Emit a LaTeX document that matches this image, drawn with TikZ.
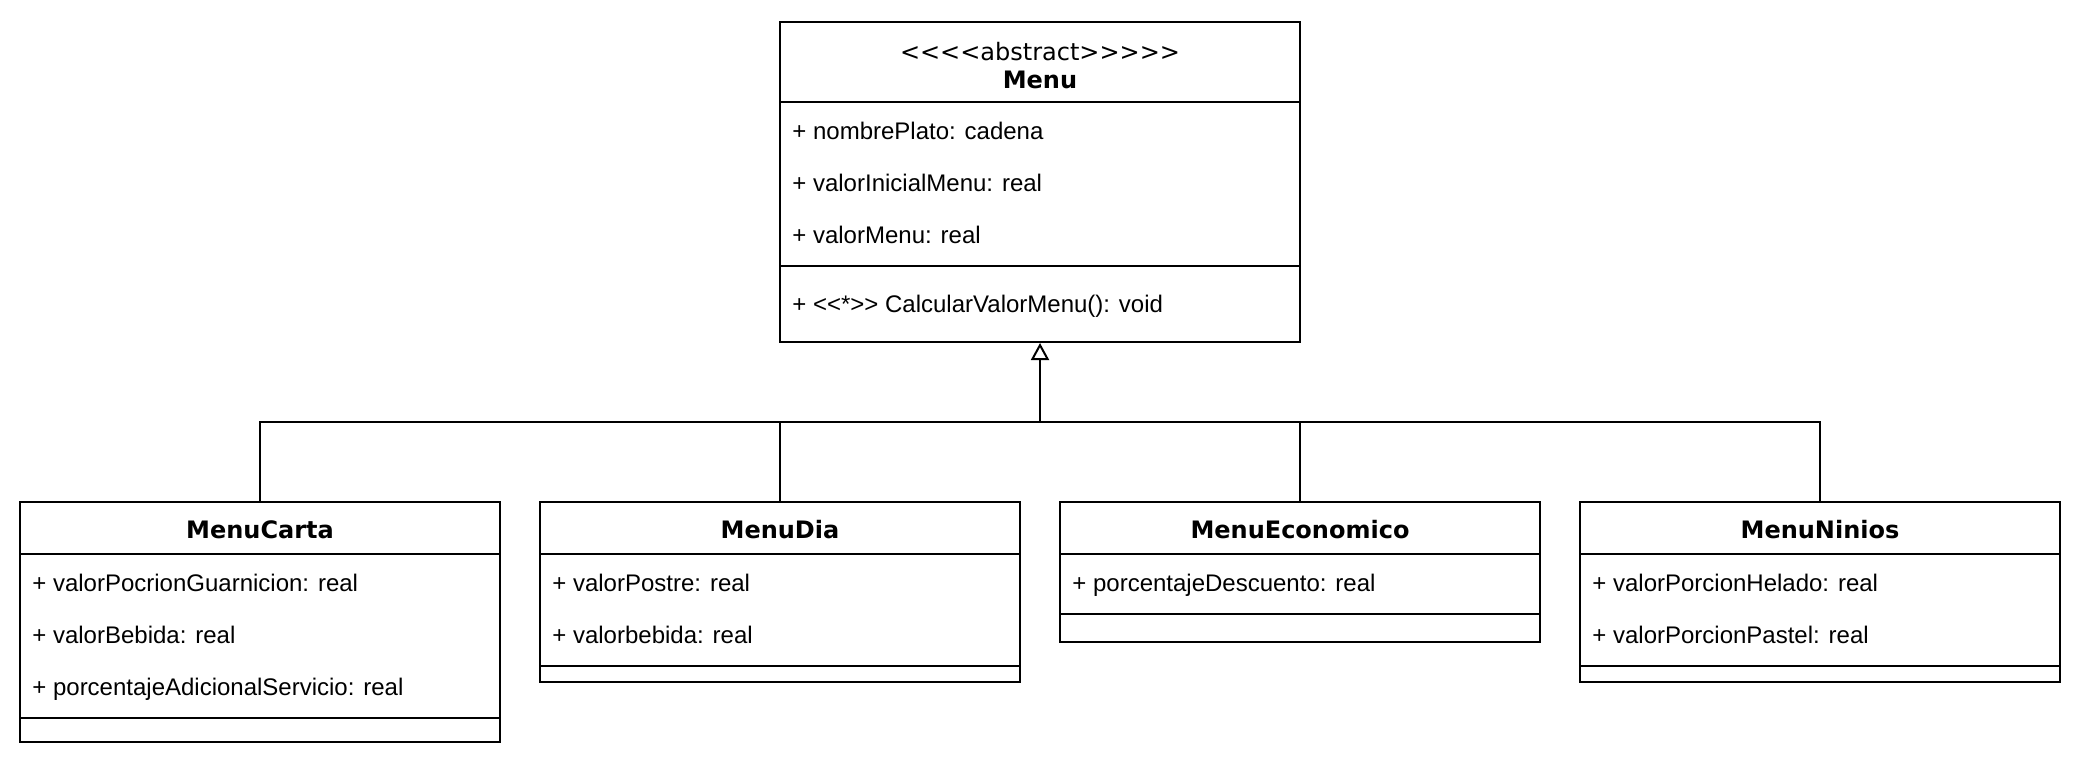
\documentclass[tikz,border=0pt]{standalone}
\usepackage{fontspec}
\usepackage{tikz}
\usetikzlibrary{arrows.meta}
\newfontfamily\attrfont{Liberation Sans}
\newfontfamily\headfont{DejaVu Sans}
\tikzset{
  font={\attrfont\fontsize{12pt}{14pt}\selectfont},
  classbox/.style={draw=black, line width=1pt, fill=white},
  sep/.style={line width=1pt},
  attr/.style={anchor=base west},
  stereo/.style={anchor=base, font={\headfont\fontsize{12pt}{14pt}\selectfont}},
  classname/.style={anchor=base, font={\headfont\bfseries\fontsize{12pt}{14pt}\selectfont}},
  bus/.style={line width=1pt}}

\begin{document}
\begin{tikzpicture}[x=1pt,y=-1pt]
\tikzstyle{every node}+=[inner sep=0pt]
\useasboundingbox (0,-1) rectangle (1041,380);
% abstract class
\node [classbox, minimum width=260pt, minimum height=160pt] (menu) at (520,90) {};
\draw [sep] (390,50) -- (650,50);
\draw [sep] (390,132) -- (650,132);
\node [stereo] (menustereo) at (520,29) {<<<<abstract>>>>>};
\node [classname] (menuname) at (520,43) {Menu};
\node [attr] (nombreplato) at (396,68.5) {+ nombrePlato: cadena};
\node [attr] (valorinicial) at (396,94.5) {+ valorInicialMenu: real};
\node [attr] (valormenu) at (396,120.5) {+ valorMenu: real};
\node [attr] (calcular) at (396,155) {+ <<*>> CalcularValorMenu(): void};
% MenuCarta
\node [classbox, minimum width=240pt, minimum height=120pt] (carta) at (130,310) {};
\draw [sep] (10,276) -- (250,276);
\draw [sep] (10,358) -- (250,358);
\node [classname] (cartaname) at (130,268.3) {MenuCarta};
\node [attr] (guarnicion) at (16,294.5) {+ valorPocrionGuarnicion: real};
\node [attr] (bebida) at (16,320.5) {+ valorBebida: real};
\node [attr] (servicio) at (16,346.5) {+ porcentajeAdicionalServicio: real};
% MenuDia
\node [classbox, minimum width=240pt, minimum height=90pt] (dia) at (390,295) {};
\draw [sep] (270,276) -- (510,276);
\draw [sep] (270,332) -- (510,332);
\node [classname] (dianame) at (390,268.3) {MenuDia};
\node [attr] (postre) at (276,294.5) {+ valorPostre: real};
\node [attr] (diabebida) at (276,320.5) {+ valorbebida: real};
% MenuEconomico
\node [classbox, minimum width=240pt, minimum height=70pt] (eco) at (650,285) {};
\draw [sep] (530,276) -- (770,276);
\draw [sep] (530,306) -- (770,306);
\node [classname] (econame) at (650,268.3) {MenuEconomico};
\node [attr] (descuento) at (536,294.5) {+ porcentajeDescuento: real};
% MenuNinios
\node [classbox, minimum width=240pt, minimum height=90pt] (ninios) at (910,295) {};
\draw [sep] (790,276) -- (1030,276);
\draw [sep] (790,332) -- (1030,332);
\node [classname] (niniosname) at (910,268.3) {MenuNinios};
\node [attr] (helado) at (796,294.5) {+ valorPorcionHelado: real};
\node [attr] (pastel) at (796,320.5) {+ valorPorcionPastel: real};
% generalization
\coordinate (junction) at (520,210);
\draw [bus, -{Triangle[open, length=8.5pt, width=9pt]}] (junction) -- (menu.south);
\draw [bus] (carta.north) |- (ninios.north |- junction) -- (ninios.north);
\draw [bus] (dia.north) -- (dia.north |- junction);
\draw [bus] (eco.north) -- (eco.north |- junction);
\end{tikzpicture}
\end{document}
